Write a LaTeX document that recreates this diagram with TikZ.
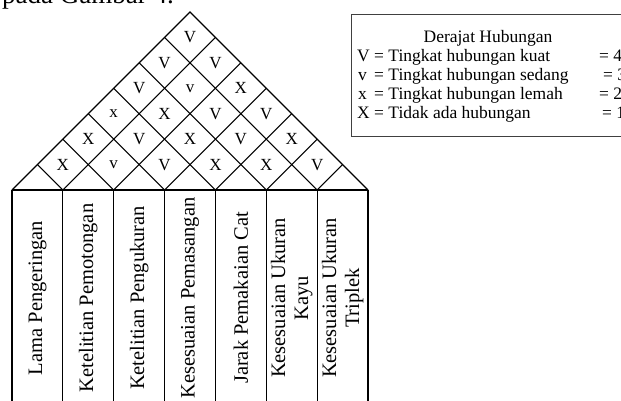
\documentclass[tikz,border=0pt]{standalone}
\usepackage{fontspec}
\setmainfont{Liberation Serif}
\begin{document}
\begin{tikzpicture}[x=1pt,y=-1pt,
  gridline/.style={line width=1.1pt, black},
  roofmark/.style={font=\fontsize{17}{19}\selectfont, inner sep=0pt},
  collabel/.style={rotate=90, align=center, font=\fontsize{20.5}{23}\selectfont, inner sep=0pt},
  legtxt/.style={anchor=base west, font=\fontsize{17.5}{19}\selectfont, inner sep=0pt},
  legbox/.style={draw=black!75, line width=0.9pt}]
\useasboundingbox (0,0) rectangle (621,401);
\def\W{50.857}
% partial text at top
\node[anchor=base west, font=\fontsize{27}{30}\selectfont, inner sep=0pt] (toptext) at (2,4) {pada Gambar 4.};
% columns
\foreach \i in {0,...,7} {
  \coordinate (c\i) at ({12+\i*\W},190);
  \coordinate (b\i) at ({12+\i*\W},410);
}
\coordinate (apex) at (190,12);
\draw[gridline] (c0) -- (c7);
\foreach \i in {0,...,7} \draw[gridline] (c\i) -- (b\i);
\draw[gridline, line join=miter] (c0) -- (apex) -- (c7);
\foreach \i in {1,...,6} {
  \draw[gridline] (c\i) -- ++({-\i*\W/2},{-\i*\W/2});
  \draw[gridline] (c\i) -- ++({(7-\i)*\W/2},{-(7-\i)*\W/2});
}
% roof marks
\newcommand\roofmk[3]{\node[roofmark] (m#1#2) at ({12+\W*((#1+1)/2+#2)},{190-#1*\W/2}) {#3};}
\roofmk{1}{0}{X}\roofmk{1}{1}{v}\roofmk{1}{2}{V}\roofmk{1}{3}{X}\roofmk{1}{4}{X}\roofmk{1}{5}{V}
\roofmk{2}{0}{X}\roofmk{2}{1}{V}\roofmk{2}{2}{X}\roofmk{2}{3}{V}\roofmk{2}{4}{X}
\roofmk{3}{0}{x}\roofmk{3}{1}{X}\roofmk{3}{2}{V}\roofmk{3}{3}{V}
\roofmk{4}{0}{V}\roofmk{4}{1}{v}\roofmk{4}{2}{X}
\roofmk{5}{0}{V}\roofmk{5}{1}{V}
\roofmk{6}{0}{V}
% column labels
\node[collabel] (l1) at ({12+0.5*\W},298) {Lama Pengeringan};
\node[collabel] (l2) at ({12+1.5*\W},298) {Ketelitian Pemotongan};
\node[collabel] (l3) at ({12+2.5*\W},298) {Ketelitian Pengukuran};
\node[collabel] (l4) at ({12+3.5*\W},298) {Kesesuaian Pemasangan};
\node[collabel] (l5) at ({12+4.5*\W},298) {Jarak Pemakaian Cat};
\node[collabel] (l6) at ({12+5.5*\W},298) {Kesesuaian Ukuran\\Kayu};
\node[collabel] (l7) at ({12+6.5*\W},298) {Kesesuaian Ukuran\\Triplek};
% legend
\draw[legbox] (351,14) rectangle (640,136);
\node[legtxt, anchor=base] (lh) at (488,43) {Derajat Hubungan};
\node[legtxt] (s1) at (357,62) {V};
\node[legtxt] (t1) at (374,62) {= Tingkat hubungan kuat};
\node[legtxt] (v1) at (599,62) {= 4};
\node[legtxt] (s2) at (358,81) {v};
\node[legtxt] (t2) at (374,81) {= Tingkat hubungan sedang};
\node[legtxt] (v2) at (603,81) {= 3};
\node[legtxt] (s3) at (358,100) {x};
\node[legtxt] (t3) at (374,100) {= Tingkat hubungan lemah};
\node[legtxt] (v3) at (599,100) {= 2};
\node[legtxt] (s4) at (357,119) {X};
\node[legtxt] (t4) at (374,119) {= Tidak ada hubungan};
\node[legtxt] (v4) at (602,119) {= 1};
\end{tikzpicture}
\end{document}
